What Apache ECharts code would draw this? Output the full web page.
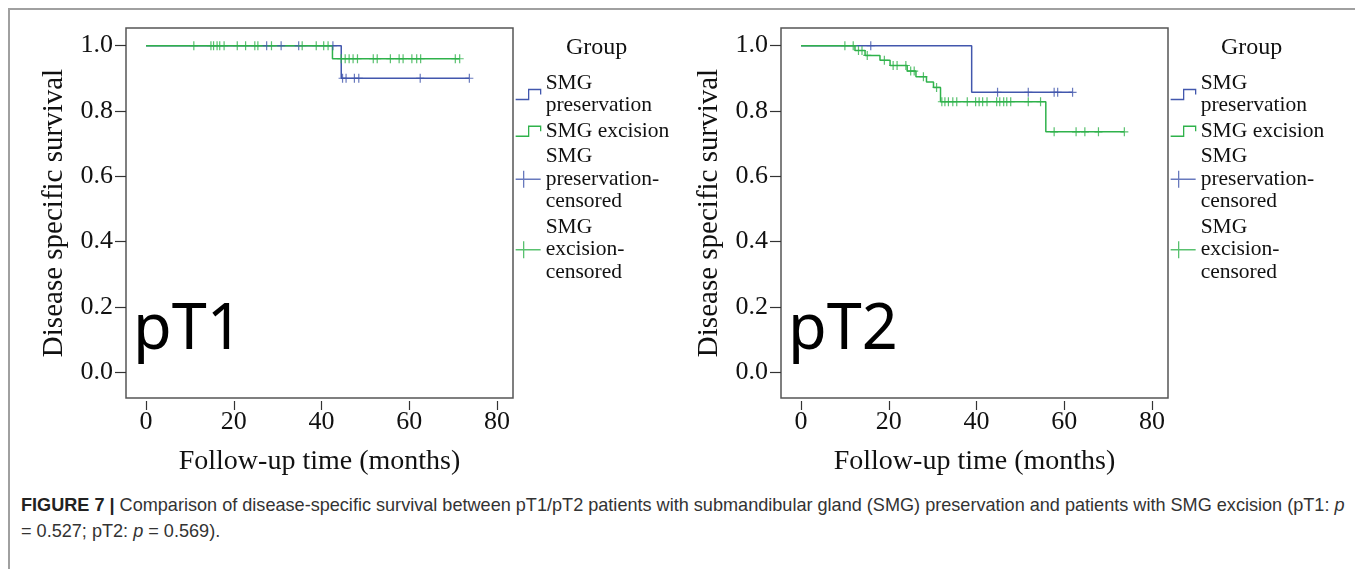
<!DOCTYPE html>
<html>
<head>
<meta charset="utf-8">
<title>Disease specific survival, pT1 / pT2</title>
<script src="https://cdn.jsdelivr.net/npm/echarts@6/dist/echarts.min.js"></script>
<style>
  html, body { margin: 0; padding: 0; background: #fff; }
  body { width: 1355px; height: 569px; position: relative; overflow: hidden; }
  #frame { position: absolute; left: 8px; top: 8px; width: 1400px; height: 600px;
           border-left: 2px solid #a0a0a0; border-top: 2px solid #a0a0a0; }
  #chart { position: absolute; left: 0; top: 0; width: 1355px; height: 485px; }
  #caption { position: absolute; left: 21px; top: 492px; font-family: 'Liberation Sans', Arial, sans-serif;
             font-size: 18.1px; line-height: 26px; color: #333; white-space: nowrap; }
  #caption b { color: #222; }
</style>
</head>
<body>
<div id="frame"></div>
<div id="chart"></div>
<div id="caption"><b>FIGURE 7 |</b> Comparison of disease-specific survival between pT1/pT2 patients with submandibular gland (SMG) preservation and patients with SMG excision (pT1: <i>p</i><br>= 0.527; pT2: <i>p</i> = 0.569).</div>
<script>
const groups = ['SMG preservation', 'SMG excision', 'SMG preservation-censored', 'SMG excision-censored'];
const groupLabels = ['SMG\npreservation', 'SMG excision', 'SMG\npreservation-\ncensored', 'SMG\nexcision-\ncensored'];
const panelLabels = ['pT1', 'pT2'];
const xTicks = [0, 20, 40, 60, 80];
const yTicks = [0, 0.2, 0.4, 0.6, 0.8, 1.0];

// [months, survival after the event]
const pt1PresSteps = [[0, 1], [44.5, 0.9], [73.7, 0.9]];
const pt1ExcSteps = [[0, 1], [42.5, 0.96], [71.5, 0.96]];
const pt1PresCensor = [27.5, 30.8, 34.8, 42.6, 44.8, 45.6, 47.5, 48.5, 62.5, 73.7];
const pt1ExcCensor = [10.9, 14.8, 15.4, 16.2, 16.8, 17.8, 20.8, 22.7, 24.8, 25.5, 28.6, 35.6, 38.8, 40.5, 41.5,
  44.5, 45.4, 46.3, 47.2, 48.2, 51.8, 52.7, 55.7, 57.7, 58.6, 60.6, 61.7, 62.6, 70.5, 71.5];

const pt2PresSteps = [[0, 1], [38.9, 0.857], [61.9, 0.857]];
const pt2ExcSteps = [[0, 1], [12.3, 0.985], [14.6, 0.970], [18.0, 0.955], [20.3, 0.939], [24.2, 0.922],
  [26.2, 0.905], [28.6, 0.889], [30.2, 0.872], [31.8, 0.828], [55.8, 0.736], [73.7, 0.736]];
const pt2PresCensor = [15.9, 44.8, 51.8, 57.7, 58.5, 61.9];
const pt2ExcCensor = [10.0, 11.9, 13.1, 13.9, 15.1, 19.0, 21.0, 21.9, 23.9, 25.0, 25.8, 27.9, 30.9,
  32.1, 32.8, 33.6, 34.6, 35.5, 37.9, 39.8, 40.6, 41.4, 42.4, 44.6, 45.3, 46.2, 46.9, 47.8, 51.8, 54.6,
  57.7, 62.7, 64.7, 67.8, 73.7];

const BLUE = '#4257ad';
const GREEN = '#2fb24b';
const SERIF = "'Liberation Serif', 'Times New Roman', serif";
const CROSS = 'path://M0,3.5H3.4V0H4.6V3.5H8V4.5H4.6V8H3.4V4.5H0Z';
const STEP_ICON = 'path://M0,10L13,10L13,0L25,0L25,5';
const CROSS_ICON = 'path://M0,8.5L25,8.5M8,0L8,17';

// plot box geometry (px) and the value range it covers
const boxLeft = [126, 781];
const boxTop = 28, boxW = 387, boxH = 370;
const X_MIN = -4.56, X_MAX = 83.65;
const Y_MIN = -0.079, Y_MAX = 1.054;

function survivalAt(steps, t) {
    let s = steps[0][1];
    steps.forEach(([ts, v]) => { if (ts <= t) s = v; });
    return s;
}

const chart = echarts.init(document.getElementById('chart'));

function panelSeries(i, presSteps, excSteps, presCens, excCens) {
    return [
        { name: groups[0], type: 'line', step: 'end', xAxisIndex: i, yAxisIndex: i, data: presSteps,
          symbol: 'none', silent: true, lineStyle: { color: BLUE, width: 1.5 }, itemStyle: { color: BLUE }, z: 2 },
        { name: groups[1], type: 'line', step: 'end', xAxisIndex: i, yAxisIndex: i, data: excSteps,
          symbol: 'none', silent: true, lineStyle: { color: GREEN, width: 1.5 }, itemStyle: { color: GREEN }, z: 3 },
        { name: groups[2], type: 'scatter', xAxisIndex: i, yAxisIndex: i,
          data: presCens.map(t => [t, survivalAt(presSteps, t)]),
          symbol: CROSS, symbolSize: [8, 9], itemStyle: { color: BLUE }, z: 4 },
        { name: groups[3], type: 'scatter', xAxisIndex: i, yAxisIndex: i,
          data: excCens.map(t => [t, survivalAt(excSteps, t)]),
          symbol: CROSS, symbolSize: [8, 9], itemStyle: { color: GREEN }, z: 5 }
    ];
}

const legendItems = groups.map((g, k) => ({
    name: g,
    icon: k < 2 ? STEP_ICON : CROSS_ICON,
    itemStyle: { color: 'rgba(0,0,0,0)', borderColor: k % 2 === 0 ? BLUE : GREEN, borderWidth: 1.3 }
}));

const option = {
    animation: false,
    grid: boxLeft.map(l => ({
        left: l, top: boxTop, width: boxW, height: boxH,
        show: true, borderColor: '#555', borderWidth: 1.5, backgroundColor: 'transparent'
    })),
    xAxis: [0, 1].map(i => ({
        gridIndex: i, type: 'value', min: X_MIN, max: X_MAX, offset: 3,
        name: 'Follow-up time (months)', nameLocation: 'middle', nameGap: 47,
        nameTextStyle: { fontFamily: SERIF, fontSize: 28, color: '#111' },
        axisLine: { show: false, onZero: false },
        axisTick: { show: true, length: 9, customValues: xTicks, lineStyle: { color: '#333', width: 1.2 } },
        axisLabel: { customValues: xTicks, fontFamily: SERIF, fontSize: 26, color: '#111', margin: 8 },
        splitLine: { show: false }
    })),
    yAxis: [0, 1].map(i => ({
        gridIndex: i, type: 'value', min: Y_MIN, max: Y_MAX,
        name: 'Disease specific survival', nameLocation: 'middle', nameGap: 57,
        nameTextStyle: { fontFamily: SERIF, fontSize: 29, color: '#111' },
        axisLine: { show: false, onZero: false },
        axisTick: { show: true, length: 11, customValues: yTicks, lineStyle: { color: '#333', width: 1.2 } },
        axisLabel: { customValues: yTicks, formatter: v => v.toFixed(1), fontFamily: SERIF, fontSize: 26,
                     color: '#111', margin: 13 },
        splitLine: { show: false }
    })),
    legend: boxLeft.map(l => ({
        orient: 'vertical', left: l + boxW + 2, top: 72, padding: 0,
        itemWidth: 25, itemHeight: 17, itemGap: 3, selectedMode: false,
        data: legendItems,
        formatter: name => groupLabels[groups.indexOf(name)],
        textStyle: { fontFamily: SERIF, fontSize: 21.5, lineHeight: 22.5, color: '#111' }
    })),
    graphic: [
        ...boxLeft.map(l => ({
            type: 'text', left: l + boxW + 53, top: 36,
            style: { text: 'Group', font: '24px ' + SERIF, fill: '#111' }
        })),
        ...boxLeft.map((l, i) => ({
            type: 'text', left: l + 7, top: 300,
            style: { text: panelLabels[i], font: "63px 'Noto Sans', sans-serif", fill: '#000' }
        }))
    ],
    series: [
        ...panelSeries(0, pt1PresSteps, pt1ExcSteps, pt1PresCensor, pt1ExcCensor),
        ...panelSeries(1, pt2PresSteps, pt2ExcSteps, pt2PresCensor, pt2ExcCensor)
    ]
};

chart.setOption(option);
window.addEventListener('resize', () => chart.resize());
</script>
</body>
</html>
